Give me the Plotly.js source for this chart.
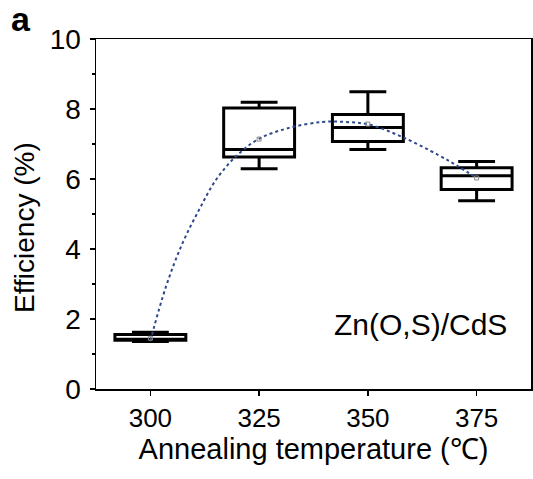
<!DOCTYPE html>
<html>
<head>
<meta charset="utf-8">
<script src="https://cdn.plot.ly/plotly-3.0.1.min.js"></script>
<style>html,body{margin:0;padding:0;background:#fff;}#chart{width:533px;height:479px;}</style>
</head>
<body>
<div id="chart"></div>
<script>
// Data
const temps = [300, 325, 350, 375];
const tickLabels = ['300', '325', '350', '375'];
const lowerWhisker = [1.36, 6.29, 6.84, 5.38];
const q1 = [1.39, 6.63, 7.07, 5.70];
const medians = [1.40, 6.84, 7.47, 6.09];
const q3 = [1.56, 8.03, 7.84, 6.32];
const upperWhisker = [1.62, 8.19, 8.49, 6.50];
const means = [1.45, 7.14, 7.57, 6.03];
// dotted fit curve
const fitX = [300, 303.6, 307.4, 311.2, 315.1, 319.7, 325, 331.9, 339.5, 344.9, 350.4, 357.9, 366.3, 370.5, 375];
const fitY = [1.38, 2.93, 4.17, 5.12, 5.98, 6.65, 7.15, 7.46, 7.63, 7.63, 7.55, 7.20, 6.68, 6.38, 6.03];

const FONT = 'Liberation Sans, Arial, sans-serif';

const traces = [
  {
    type: 'scatter', mode: 'lines', x: fitX, y: fitY,
    line: {color: '#2e4a8c', width: 2, dash: 'dot', shape: 'spline'},
    hoverinfo: 'skip', showlegend: false
  },
  {
    type: 'box', x: temps, q1: q1, median: medians, q3: q3,
    lowerfence: lowerWhisker, upperfence: upperWhisker,
    width: 16.3, whiskerwidth: 0.52,
    fillcolor: 'rgba(255,255,255,0)',
    line: {color: '#000', width: 3},
    boxpoints: false, showlegend: false
  },
  {
    type: 'scatter', mode: 'markers', x: temps, y: means,
    marker: {symbol: 'square-open', size: 4, color: '#888', line: {width: 1}},
    showlegend: false
  }
];

const layout = {
  width: 533, height: 479,
  margin: {l: 96, r: 2, t: 39, b: 90},
  paper_bgcolor: '#fff', plot_bgcolor: '#fff',
  font: {family: FONT, color: '#000'},
  showlegend: false,
  xaxis: {
    range: [287.5, 387.5],
    tickvals: temps, ticktext: tickLabels,
    ticks: 'outside', ticklen: 5, tickwidth: 1.5, tickcolor: '#000',
    showline: true, linecolor: '#000', linewidth: 1.5, mirror: true,
    showgrid: false, zeroline: false,
    tickfont: {size: 26, family: FONT},
    title: {text: 'Annealing temperature (℃)', font: {size: 29, family: FONT}, standoff: 6}
  },
  yaxis: {
    range: [0, 10],
    tickvals: [0, 2, 4, 6, 8, 10],
    ticks: 'outside', ticklen: 5, tickwidth: 1.5, tickcolor: '#000',
    minor: {tickvals: [1, 3, 5, 7, 9], ticks: 'outside', ticklen: 3, tickwidth: 1.5, tickcolor: '#000', showgrid: false},
    showline: true, linecolor: '#000', linewidth: 1.5, mirror: true,
    showgrid: false, zeroline: false,
    tickfont: {size: 28, family: FONT},
    ticklabelstandoff: 3
  },
  annotations: [
    {text: 'Efficiency (%)', xref: 'paper', yref: 'paper', x: -0.165, y: 0.461,
     xanchor: 'center', yanchor: 'middle', textangle: -90, showarrow: false,
     font: {size: 28, family: FONT}},
    {text: 'Zn(O,S)/CdS', xref: 'paper', yref: 'paper', x: 0.745, y: 0.185,
     xanchor: 'center', yanchor: 'middle', showarrow: false,
     font: {size: 30, family: FONT}},
    {text: '<b>a</b>', xref: 'paper', yref: 'paper', x: -0.2, y: 1.058,
     xanchor: 'left', yanchor: 'middle', showarrow: false,
     font: {size: 34, family: FONT}}
  ]
};

Plotly.newPlot('chart', traces, layout, {staticPlot: true});
</script>
</body>
</html>
